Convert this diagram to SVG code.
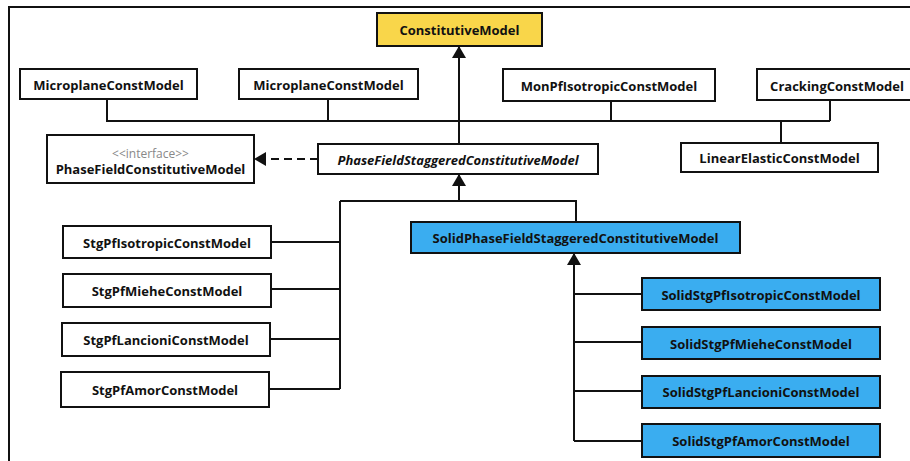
<svg xmlns="http://www.w3.org/2000/svg" width="910" height="461" viewBox="0 0 910 461">
<style>
.box{fill:#fff;stroke:#111;stroke-width:2}
.yellow{fill:#F9D64A}
.blue{fill:#3AADF0}
.t{font-family:"Open Sans","Noto Sans",sans-serif;font-weight:bold;font-size:13px;fill:#111;text-anchor:middle;dominant-baseline:central}
.it{font-style:italic}
.st{font-family:"Open Sans","Noto Sans",sans-serif;font-size:12px;fill:#888;text-anchor:middle;dominant-baseline:central}
.ln{fill:none;stroke:#111;stroke-width:2}
.dash{stroke-dasharray:8,5}
</style>
<defs>
<marker id="tri" viewBox="0 0 12 14" refX="12" refY="7" markerWidth="12" markerHeight="14" markerUnits="userSpaceOnUse" orient="auto">
<path d="M0,0 L12,7 L0,14 Z" fill="#111"/>
</marker>
</defs>
<rect x="0" y="0" width="910" height="461" fill="#fff"/>
<path d="M9,461 V7 H910" fill="none" stroke="#111" stroke-width="2"/>
<g id="connectors">
<path class="ln" d="M107,99 V121 H830 M328,99 V121 M611,101 V121 M830,100 V121 M781,121 V143"/>
<path class="ln" d="M459,144 V46" marker-end="url(#tri)"/>
<path class="ln dash" d="M318,159 H254" marker-end="url(#tri)"/>
<path class="ln" d="M459,201 V174" marker-end="url(#tri)"/>
<path class="ln" d="M340,201 H576 V222 M340,201 V389 M271,242 H340 M271,289 H340 M270,339 H340 M269,389 H340"/>
<path class="ln" d="M574,441 V253" marker-end="url(#tri)"/>
<path class="ln" d="M574,294 H642 M574,342 H642 M574,391 H642 M574,441 H642"/>
</g>
<g id="ConstitutiveModel"><rect class="box yellow" x="377" y="13" width="165" height="33"/><text class="t" x="459.5" y="30">ConstitutiveModel</text></g>
<g id="MicroplaneConstModel1"><rect class="box" x="20" y="69" width="177" height="30"/><text class="t" x="108.5" y="85">MicroplaneConstModel</text></g>
<g id="MicroplaneConstModel2"><rect class="box" x="239" y="69" width="179" height="30"/><text class="t" x="328.5" y="85">MicroplaneConstModel</text></g>
<g id="MonPfIsotropicConstModel"><rect class="box" x="503" y="69" width="212" height="32"/><text class="t" x="609" y="86">MonPfIsotropicConstModel</text></g>
<g id="CrackingConstModel"><rect class="box" x="757" y="69" width="160" height="31"/><text class="t" x="837" y="86">CrackingConstModel</text></g>
<g id="PhaseFieldConstitutiveModel"><rect class="box" x="47" y="135" width="207" height="48"/><text class="st" x="150.5" y="153">&lt;&lt;interface&gt;&gt;</text><text class="t" x="150.5" y="169">PhaseFieldConstitutiveModel</text></g>
<g id="PhaseFieldStaggeredConstitutiveModel"><rect class="box" x="318" y="144" width="280" height="30"/><text class="t it" x="458" y="160">PhaseFieldStaggeredConstitutiveModel</text></g>
<g id="LinearElasticConstModel"><rect class="box" x="681" y="143" width="197" height="29"/><text class="t" x="779.5" y="158">LinearElasticConstModel</text></g>
<g id="StgPfIsotropicConstModel"><rect class="box" x="63" y="226" width="208" height="32"/><text class="t" x="167" y="243">StgPfIsotropicConstModel</text></g>
<g id="StgPfMieheConstModel"><rect class="box" x="63" y="274" width="208" height="33"/><text class="t" x="167" y="291">StgPfMieheConstModel</text></g>
<g id="StgPfLancioniConstModel"><rect class="box" x="62" y="323" width="208" height="33"/><text class="t" x="166" y="340">StgPfLancioniConstModel</text></g>
<g id="StgPfAmorConstModel"><rect class="box" x="61" y="372" width="208" height="35"/><text class="t" x="165" y="390">StgPfAmorConstModel</text></g>
<g id="SolidPhaseFieldStaggeredConstitutiveModel"><rect class="box blue" x="411" y="222" width="329" height="31"/><text class="t" x="575.5" y="238">SolidPhaseFieldStaggeredConstitutiveModel</text></g>
<g id="SolidStgPfIsotropicConstModel"><rect class="box blue" x="642" y="278" width="238" height="32"/><text class="t" x="761" y="295">SolidStgPfIsotropicConstModel</text></g>
<g id="SolidStgPfMieheConstModel"><rect class="box blue" x="642" y="327" width="238" height="32"/><text class="t" x="761" y="344">SolidStgPfMieheConstModel</text></g>
<g id="SolidStgPfLancioniConstModel"><rect class="box blue" x="642" y="376" width="238" height="32"/><text class="t" x="761" y="392">SolidStgPfLancioniConstModel</text></g>
<g id="SolidStgPfAmorConstModel"><rect class="box blue" x="642" y="424" width="238" height="33"/><text class="t" x="761" y="441">SolidStgPfAmorConstModel</text></g>
</svg>
